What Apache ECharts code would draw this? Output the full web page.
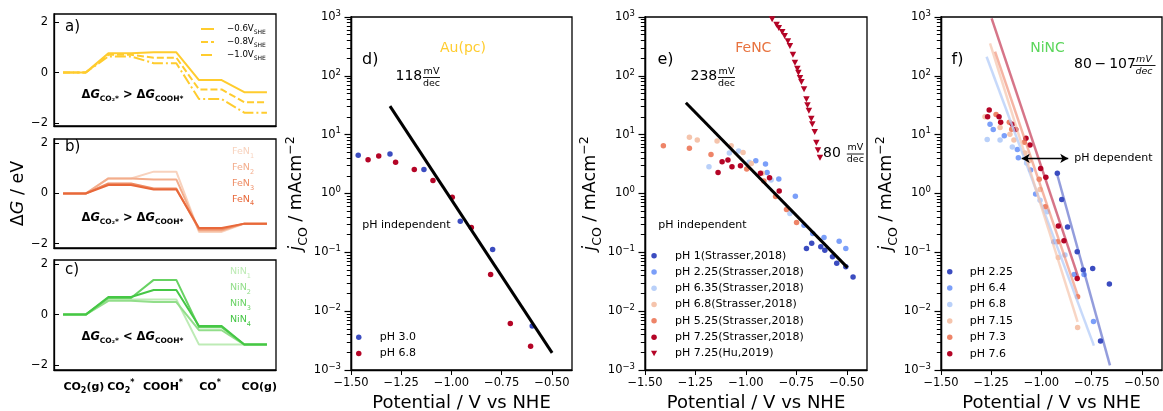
<!DOCTYPE html>
<html><head><meta charset="utf-8">
<script src="https://cdn.jsdelivr.net/npm/echarts@6/dist/echarts.min.js"></script>
<style>html,body{margin:0;padding:0;background:#fff}#c{width:1163px;height:411px}</style>
</head><body><div id="c"></div>
<script>
// ---------- Data ----------
// Free-energy diagrams (levels per state, eV)
const stateLabels = ['CO2(g)', 'CO2*', 'COOH*', 'CO*', 'CO(g)'];
const stateLabelPos = [0.92, 2.55, 4.41, 6.49, 8.66];
const auNames = ['−0.6VSHE', '−0.8VSHE', '−1.0VSHE'];
const au06 = [0, 0.76, 0.80, -0.30, -0.78];
const au08 = [0, 0.70, 0.59, -0.67, -1.18];
const au10 = [0, 0.64, 0.37, -1.05, -1.59];
const feNames = ['FeN1', 'FeN2', 'FeN3', 'FeN4'];
const feN1 = [0, 0.60, 0.87, -1.53, -1.20];
const feN2 = [0, 0.60, 0.56, -1.47, -1.20];
const feN3 = [0, 0.40, 0.20, -1.42, -1.20];
const feN4 = [0, 0.34, 0.16, -1.37, -1.20];
const niNames = ['NiN1', 'NiN2', 'NiN3', 'NiN4'];
const niN1 = [0, 0.60, 0.60, -1.19, -1.19];
const niN2 = [0, 0.55, 0.50, -0.62, -1.19];
const niN3 = [0, 0.66, 1.38, -0.50, -1.19];
const niN4 = [0, 0.70, 0.98, -0.45, -1.19];
const yTicksDG = [-2, 0, 2];

// Tafel data: [potential V vs NHE, j_CO mA cm^-2]
const xTicksPot = [-1.5, -1.25, -1.0, -0.75, -0.5];
// d) Au(pc)
const au_pH3 = [[-1.464,4.45],[-1.306,4.7],[-1.137,2.57],[-0.956,0.336],[-0.795,0.112],[-0.598,0.0056]];
const au_pH68 = [[-1.415,3.74],[-1.362,4.33],[-1.278,3.39],[-1.185,2.57],[-1.092,1.67],[-0.996,0.86],[-0.901,0.265],[-0.805,0.042],[-0.707,0.0062],[-0.606,0.00254]];
const au_fit = [[-1.306,30.6],[-0.499,0.00195]];
// e) FeNC
const fe_pH1 = [[-0.700,0.116],[-0.674,0.142],[-0.629,0.124],[-0.609,0.109],[-0.571,0.084],[-0.550,0.065],[-0.505,0.057],[-0.469,0.038]];
const fe_pH225 = [[-0.951,3.6],[-0.903,3.16],[-0.895,2.28],[-0.837,1.76],[-0.755,0.90],[-0.712,0.29],[-0.669,0.21],[-0.613,0.179],[-0.538,0.155],[-0.505,0.116]];
const fe_pH635 = [[-1.183,2.85],[-1.082,4.9],[-1.036,5.3],[-0.984,3.4],[-0.875,1.69],[-0.782,0.458]];
const fe_pH68 = [[-1.280,9.0],[-1.241,8.1],[-1.143,7.8],[-1.073,6.5],[-1.014,5.0],[-0.973,3.25],[-0.919,2.2]];
const fe_pH525 = [[-1.409,6.5],[-1.280,5.85],[-1.173,4.6],[-0.996,2.6],[-0.911,1.63],[-0.853,0.89],[-0.799,0.537],[-0.749,0.32]];
const fe_pH725 = [[-1.138,2.28],[-1.118,3.47],[-1.089,3.7],[-1.069,2.85],[-1.027,2.96],[-0.928,2.2],[-0.883,1.85],[-0.835,1.1]];
const fe_hu725 = [[-0.870,912],[-0.848,740],[-0.837,650],[-0.820,556],[-0.808,475],[-0.792,386],[-0.782,321],[-0.767,229],[-0.757,167],[-0.745,132],[-0.740,113],[-0.732,91.8],[-0.725,78.5],[-0.712,58.9],[-0.700,39.8],[-0.695,31.5],[-0.688,25.5],[-0.676,18.6],[-0.671,15.1],[-0.659,11.1],[-0.651,7.28],[-0.643,5.41],[-0.633,4.05]];
const fe_fit = [[-1.2975,34.9],[-0.4965,0.055]];
// f) NiNC
const ni_pH225 = [[-0.921,2.2],[-0.899,0.79],[-0.870,0.27],[-0.822,0.102],[-0.792,0.050],[-0.745,0.053],[-0.662,0.029],[-0.706,0.0031]];
const ni_pH64 = [[-1.256,15.1],[-1.240,12.3],[-1.185,9.6],[-1.120,5.6],[-1.115,4.05],[-1.054,2.5],[-1.029,0.98],[-0.938,0.151],[-0.837,0.042],[-0.788,0.042],[-0.741,0.0067]];
const ni_pH68 = [[-1.270,8.3],[-1.206,8.1],[-1.145,6.2],[-1.074,3.3],[-1.007,0.77],[-0.971,0.49],[-0.883,0.09]];
const ni_pH715 = [[-1.281,20.2],[-1.206,13.3],[-1.157,10.2],[-1.137,8.1],[-1.082,4.9],[-1.062,3.6],[-1.007,1.17],[-0.916,0.082],[-0.820,0.0053]];
const ni_pH73 = [[-1.226,22.1],[-1.160,16.2],[-1.148,12.4],[-1.085,7.4],[-1.011,1.74],[-0.981,0.594],[-0.919,0.151],[-0.820,0.0175]];
const ni_pH76 = [[-1.260,26.2],[-1.268,20.2],[-1.211,20.2],[-1.203,16.2],[-1.145,15.1],[-1.128,12.3],[-1.077,8.65],[-1.057,6.65],[-1.004,2.67],[-0.978,1.88],[-0.916,0.279],[-0.888,0.157],[-0.822,0.036]];
const ni_fit76 = [[-1.248,950],[-0.817,0.038]];
const ni_fit73 = [[-1.231,257],[-0.817,0.0175]];
const ni_fit715 = [[-1.256,357],[-0.820,0.0066]];
const ni_fit68 = [[-1.273,211],[-0.739,0.0026]];
const ni_fit225 = [[-0.924,2.25],[-0.659,0.0012]];
const arrowCoords = [[-1.0985,3.95],[-0.8667,3.95]];

// ---------- Styles ----------
const FONT = 'DejaVu Sans';
const C = {blue1:'#3b4cc0', blue2:'#7b9ff9', blue3:'#b9d0f9', red3:'#f5c4ac', red2:'#ee8468', red1:'#b40426'};
const yellow = '#FFCC2E';
const feColors = ['#F8D2BD','#F3AD8C','#EE8C64','#E8683A'];
const niColors = ['#BDEBB5','#92DE8A','#68D263','#45C745'];

function levelPts(levels){ const p=[]; levels.forEach((v,i)=>{p.push([2*i,v]);p.push([2*i+1,v]);}); return p; }
const minus = v => (v<0?'−':'') + Math.abs(v);
// minor log-tick positions (log10 of 2..9 x 10^k), placed on a hidden linear helper axis
const minorLogs = [];
for (let e=-3;e<3;e++) for (let k=2;k<10;k++) minorLogs.push(Math.log10(k*Math.pow(10,e)));

const grids = [
  {left:54, top:14, width:222, height:112},
  {left:54, top:139, width:222, height:109},
  {left:54, top:260, width:222, height:110},
  {left:351, top:17, width:221, height:353},
  {left:645, top:17, width:222, height:353},
  {left:941, top:17, width:221, height:353}
].map(g=>Object.assign({show:true, borderColor:'#000', borderWidth:1.3, backgroundColor:'transparent', containLabel:false, outerBoundsMode:'none'}, g));

const blackLine = {show:true, onZero:false, lineStyle:{color:'#000', width:1.3}};
const xAxes = [];
const yAxes = [];
const dgRanges = [[-2.12,2.32],[-2.17,2.17],[-2.2,2.17]];
for (let i=0;i<3;i++){
  xAxes.push({type:'value', gridIndex:i, position:'bottom', min:-0.4, max:9.4, axisLine:blackLine, axisTick:{show:false}, splitLine:{show:false},
    axisLabel: i<2 ? {show:false} : {show:true, customValues: stateLabelPos, margin:9, color:'#000',
      formatter: v => { const k = stateLabelPos.indexOf(v); return ['{b|CO}{s|2}{b|(g)}','{b|CO}{s|2}{p|*}','{b|COOH}{p|*}','{b|CO}{p|*}','{b|CO(g)}'][k]; },
      rich:{b:{fontFamily:FONT, fontWeight:'bold', fontSize:11, lineHeight:16, color:'#000'}, s:{fontFamily:FONT, fontWeight:'bold', fontSize:8, lineHeight:11, verticalAlign:'bottom', color:'#000'}, p:{fontFamily:FONT, fontWeight:'bold', fontSize:8, lineHeight:11, verticalAlign:'top', color:'#000'}}}});
  yAxes.push(Object.assign({type:'value', gridIndex:i, position:'left', min:dgRanges[i][0], max:dgRanges[i][1], axisLine:blackLine, splitLine:{show:false},
    axisTick:{show:true, inside:true, length:5, customValues:yTicksDG, lineStyle:{color:'#000', width:1}},
    axisLabel:{customValues:yTicksDG, formatter: v=>minus(v), fontSize:11.5, color:'#000', fontFamily:FONT, margin:6}},
    i===1 ? {name:'{d|Δ}{g|G}{d| / eV}', nameLocation:'middle', nameGap:27,
      nameTextStyle:{rich:{d:{fontFamily:FONT, fontSize:17.5, color:'#000'}, g:{fontFamily:FONT, fontSize:17.5, fontStyle:'italic', color:'#000'}}}} : {}));
}
const jName = '{i|j}{s|CO}{n| / mAcm}{p|−2}';
const jRich = {n:{fontFamily:FONT, fontSize:17.5, lineHeight:26, color:'#000'}, i:{fontFamily:FONT, fontSize:17.5, fontStyle:'italic', lineHeight:26, color:'#000'},
  s:{fontFamily:FONT, fontSize:12.5, lineHeight:16, verticalAlign:'bottom', color:'#000'}, p:{fontFamily:FONT, fontSize:12.5, lineHeight:14, verticalAlign:'top', color:'#000'}};
for (let i=3;i<6;i++){
  xAxes.push({type:'value', gridIndex:i, position:'bottom', min:-1.5, max:-0.4, axisLine:blackLine, splitLine:{show:false},
    axisTick:{show:true, customValues:xTicksPot, length:5, lineStyle:{color:'#000'}},
    axisLabel:{customValues:xTicksPot, formatter: v => (v<0?'−':'')+Math.abs(v).toFixed(2), fontSize:11.5, color:'#000', fontFamily:FONT, margin:7},
    name:'Potential / V vs NHE', nameLocation:'middle', nameGap:21, nameTextStyle:{fontFamily:FONT, fontSize:18, color:'#000'}});
  yAxes.push({type:'log', logBase:10, gridIndex:i, position:'left', min:1e-3, max:1e3, axisLine:blackLine, splitLine:{show:false}, minorTick:{show:false},
    axisTick:{show:true, length:6.5, lineStyle:{color:'#000', width:1.2}},
    axisLabel:{margin:10, color:'#000', formatter: v => { const e=Math.round(Math.log10(v)); return '{b|10}{p|'+(e<0?'−'+(-e):e)+'}'; },
      rich:{b:{fontFamily:FONT, fontSize:11.5, lineHeight:16, color:'#000'}, p:{fontFamily:FONT, fontSize:8.5, lineHeight:10, verticalAlign:'top', color:'#000'}}},
    name:jName, nameLocation:'middle', nameGap:35, nameTextStyle:{rich:jRich}});
}
for (let i=3;i<6;i++){
  yAxes.push({type:'value', gridIndex:i, position:'left', offset:0, min:-3, max:3, axisLine:{show:true, onZero:false, lineStyle:{color:'#000', width:1.3}},
    axisLabel:{show:false}, splitLine:{show:false},
    axisTick:{show:true, customValues:minorLogs, length:4.2, lineStyle:{color:'#000', width:1}}});
}

const series = [];
function energy(name, levels, g, color, type){
  series.push({name, type:'line', xAxisIndex:g, yAxisIndex:g, data:levelPts(levels), symbol:'none', silent:true,
    lineStyle:{color, width:2, type:type||'solid'}, itemStyle:{color}});
}
energy(auNames[0], au06, 0, yellow);
energy(auNames[1], au08, 0, yellow, [7,3]);
energy(auNames[2], au10, 0, yellow, [11,3,2,3]);
[feN1,feN2,feN3,feN4].forEach((l,i)=>energy(feNames[i], l, 1, feColors[i]));
[niN1,niN2,niN3,niN4].forEach((l,i)=>energy(niNames[i], l, 2, niColors[i]));

function scat(name, data, g, color, sym){
  series.push({name, type:'scatter', xAxisIndex:g, yAxisIndex:g, data, symbol:sym||'circle', symbolSize: sym?[6.5,6]:5.5, itemStyle:{color, opacity:1}, silent:true});
}
function fit(data, g, color, width, opacity, extra){
  series.push(Object.assign({type:'line', xAxisIndex:g, yAxisIndex:g, data, symbol:'none', silent:true, lineStyle:{color, width, opacity}}, extra||{}));
}
const triPath = 'path://M0,0L10,0L5,9Z';
// d
scat('pH 3.0', au_pH3, 3, C.blue1);
scat('pH 6.8', au_pH68, 3, C.red1);
fit(au_fit, 3, '#000', 3, 1);
// e
scat('pH 1(Strasser,2018)', fe_pH1, 4, C.blue1);
scat('pH 2.25(Strasser,2018)', fe_pH225, 4, C.blue2);
scat('pH 6.35(Strasser,2018)', fe_pH635, 4, C.blue3);
scat('pH 6.8(Strasser,2018)', fe_pH68, 4, C.red3);
scat('pH 5.25(Strasser,2018)', fe_pH525, 4, C.red2);
scat('pH 7.25(Strasser,2018)', fe_pH725, 4, C.red1);
scat('pH 7.25(Hu,2019)', fe_hu725, 4, C.red1, triPath);
fit(fe_fit, 4, '#000', 3, 1);
// f
fit(ni_fit68, 5, C.blue3, 2.5, 0.8);
fit(ni_fit715, 5, C.red3, 2.5, 0.7);
fit(ni_fit73, 5, C.red2, 2.5, 0.6);
fit(ni_fit76, 5, C.red1, 2.5, 0.55);
fit(ni_fit225, 5, C.blue1, 2.5, 0.55, {markLine:{silent:true, symbol:['arrow','arrow'], symbolSize:[7,8], label:{show:false},
  lineStyle:{color:'#000', width:1.3, type:'solid', opacity:1}, data:[[{coord:arrowCoords[0]},{coord:arrowCoords[1]}]]}});
const ZW='\u200b';
scat('pH 2.25', ni_pH225, 5, C.blue1);
scat('pH 6.4', ni_pH64, 5, C.blue2);
scat('pH 6.8'+ZW, ni_pH68, 5, C.blue3);
scat('pH 7.15', ni_pH715, 5, C.red3);
scat('pH 7.3', ni_pH73, 5, C.red2);
scat('pH 7.6', ni_pH76, 5, C.red1);

const legendBase = {orient:'vertical', selectedMode:false, itemGap:0, padding:0};
const legends = [
  Object.assign({}, legendBase, {left:200, top:22.5, data:auNames, itemWidth:13, itemHeight:6, itemStyle:{opacity:0},
    formatter: n => '{g| }' + n.replace('VSHE','V{s|SHE}'),
    textStyle:{fontFamily:FONT, fontSize:8.6, lineHeight:13, color:'#000', rich:{g:{width:8}, s:{fontSize:6, verticalAlign:'bottom', lineHeight:10}}}}),
  Object.assign({}, legendBase, {left:227, top:143.7, icon:'none', itemWidth:0, itemHeight:6,
    data: feNames.map((n,i)=>({name:n, textStyle:{color:feColors[i]}})), formatter: n => n.slice(0,3)+'{s|'+n.slice(3)+'}',
    textStyle:{fontFamily:FONT, fontSize:9.5, lineHeight:15.9, rich:{s:{fontSize:6.5, verticalAlign:'bottom', lineHeight:11}}}}),
  Object.assign({}, legendBase, {left:225, top:263.6, icon:'none', itemWidth:0, itemHeight:6,
    data: niNames.map((n,i)=>({name:n, textStyle:{color:niColors[i]}})), formatter: n => n.slice(0,3)+'{s|'+n.slice(3)+'}',
    textStyle:{fontFamily:FONT, fontSize:9.5, lineHeight:16.1, rich:{s:{fontSize:6.5, verticalAlign:'bottom', lineHeight:11}}}}),
  Object.assign({}, legendBase, {left:356, top:329, icon:'circle', itemWidth:32, itemHeight:5.5, data:['pH 3.0','pH 6.8'],
    textStyle:{fontFamily:FONT, fontSize:11, lineHeight:16.3, color:'#000'}}),
  Object.assign({}, legendBase, {left:651, top:247.5, icon:'circle', itemWidth:32, itemHeight:5.5,
    data:['pH 1(Strasser,2018)','pH 2.25(Strasser,2018)','pH 6.35(Strasser,2018)','pH 6.8(Strasser,2018)','pH 5.25(Strasser,2018)','pH 7.25(Strasser,2018)',{name:'pH 7.25(Hu,2019)', icon:triPath}],
    textStyle:{fontFamily:FONT, fontSize:11, lineHeight:16.3, color:'#000'}}),
  Object.assign({}, legendBase, {left:947, top:263.5, icon:'circle', itemWidth:30, itemHeight:5.5,
    data:['pH 2.25','pH 6.4','pH 6.8'+ZW,'pH 7.15','pH 7.3','pH 7.6'], formatter: n => n.replace(ZW,''),
    textStyle:{fontFamily:FONT, fontSize:11, lineHeight:16.4, color:'#000'}})
];

// ---------- Annotations ----------
function txt(x, y, text, o){
  return {type:'text', x, y, z:100, silent:true, style:Object.assign({text, fontFamily:FONT, fontSize:11, fill:'#000', textAlign:'left', textVerticalAlign:'middle', align:'left', verticalAlign:'middle'}, o||{})};
}
function frac(cx, ly, w, italic){
  const st = {fontSize:9.5, textAlign:'center', align:'center', fontStyle: italic?'italic':'normal'};
  return [txt(cx, ly-6, 'mV', st), {type:'line', z:100, silent:true, shape:{x1:cx-w/2, y1:ly, x2:cx+w/2, y2:ly}, style:{stroke:'#000', lineWidth:0.9}}, txt(cx, ly+5.8, 'dec', st)];
}
const dgRich = {m:{fontFamily:FONT, fontWeight:'bold', fontSize:11.5, lineHeight:16}, g:{fontFamily:FONT, fontWeight:'bold', fontStyle:'italic', fontSize:11.5, lineHeight:16},
  s:{fontFamily:FONT, fontWeight:'bold', fontSize:7.5, lineHeight:10, verticalAlign:'bottom'}};
const graphics = [
  txt(65, 27, 'a)', {fontSize:15}), txt(65, 147.5, 'b)', {fontSize:15}), txt(65, 270, 'c)', {fontSize:15}),
  txt(81.5, 95, '{m|Δ}{g|G}{s|CO₂*}{m| > Δ}{g|G}{s|COOH*}', {rich:dgRich}),
  txt(81.5, 218, '{m|Δ}{g|G}{s|CO₂*}{m| > Δ}{g|G}{s|COOH*}', {rich:dgRich}),
  txt(81.5, 337, '{m|Δ}{g|G}{s|CO₂*}{m| < Δ}{g|G}{s|COOH*}', {rich:dgRich}),
  txt(362, 60, 'd)', {fontSize:16}), txt(657.5, 60, 'e)', {fontSize:16}), txt(951.5, 60, 'f)', {fontSize:16}),
  txt(463, 48, 'Au(pc)', {fontSize:14, fill:yellow, textAlign:'center', align:'center'}),
  txt(753.3, 48, 'FeNC', {fontSize:14, fill:'#E8733F', textAlign:'center', align:'center'}),
  txt(1047.5, 48, 'NiNC', {fontSize:14, fill:'#5CD65C', textAlign:'center', align:'center'}),
  txt(395.5, 76, '118', {fontSize:14}), ...frac(431.5, 77.5, 17),
  txt(690.5, 76, '238', {fontSize:14}), ...frac(726.5, 77.5, 17),
  txt(823, 153.7, '80', {fontSize:14}), ...frac(855.3, 154, 17),
  txt(1074, 64.7, '80\u2009−\u2009107', {fontSize:14}), ...frac(1144, 65.5, 23, true),
  txt(362.3, 225, 'pH independent'), txt(658.3, 225, 'pH independent'), txt(1074.3, 158, 'pH dependent')
];

const chart = echarts.init(document.getElementById('c'), null, {renderer:'canvas'});
chart.setOption({
  backgroundColor:'#fff', animation:false,
  textStyle:{fontFamily:FONT},
  grid:grids, xAxis:xAxes, yAxis:yAxes, series, legend:legends, graphic:graphics
});
</script>
</body></html>
